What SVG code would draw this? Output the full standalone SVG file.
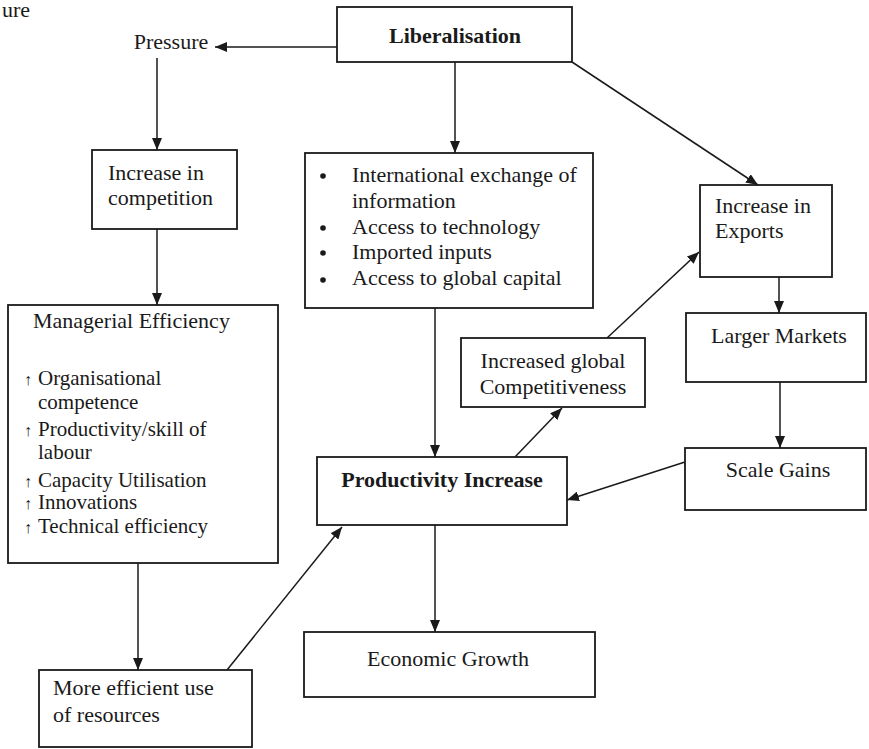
<svg xmlns="http://www.w3.org/2000/svg" width="869" height="749" viewBox="0 0 869 749">
<style>
  text { font-family: "Liberation Serif", "Times New Roman", serif; fill: #1a1a1a; font-size: 22px; }
  .b { font-weight: bold; }
  .box { fill: #ffffff; stroke: #1a1a1a; stroke-width: 1.8; }
  .ln { stroke: #1a1a1a; stroke-width: 1.5; fill: none; marker-end: url(#ah); }
  .mid { text-anchor: middle; }
  .up { font-size: 16px; }
  .it { font-size: 21px; }
</style>
<defs>
  <marker id="ah" markerWidth="12" markerHeight="10" refX="12" refY="5" orient="auto" markerUnits="userSpaceOnUse">
    <path d="M0,0 L12,5 L0,10 Z" fill="#1a1a1a"/>
  </marker>
</defs>
<rect width="869" height="749" fill="#ffffff"/>
<text x="2" y="17" font-size="20">ure</text>

<g id="connectors">
  <line class="ln" x1="337" y1="47" x2="215" y2="47"/>
  <line class="ln" x1="157" y1="58" x2="157" y2="150"/>
  <line class="ln" x1="157" y1="229" x2="157" y2="305"/>
  <line class="ln" x1="138" y1="563" x2="138" y2="670"/>
  <line class="ln" x1="227" y1="670" x2="342" y2="527"/>
  <line class="ln" x1="455" y1="62" x2="455" y2="153"/>
  <line class="ln" x1="435" y1="308" x2="435" y2="457"/>
  <line class="ln" x1="435" y1="525" x2="435" y2="632"/>
  <line class="ln" x1="572" y1="62" x2="758" y2="185"/>
  <line class="ln" x1="779" y1="277" x2="779" y2="313"/>
  <line class="ln" x1="780" y1="382" x2="780" y2="448"/>
  <line class="ln" x1="685" y1="462" x2="567" y2="500"/>
  <line class="ln" x1="515" y1="457" x2="562" y2="408"/>
  <line class="ln" x1="607" y1="338" x2="699" y2="252"/>
</g>

<g id="liberalisation">
  <rect class="box" x="337" y="7" width="235" height="55"/>
  <text x="455" y="43" class="b mid" font-size="27">Liberalisation</text>
</g>
<g id="pressure">
  <text x="171" y="49" class="mid">Pressure</text>
</g>
<g id="competition">
  <rect class="box" x="92" y="150" width="145" height="79"/>
  <text x="108" y="180">Increase in</text>
  <text x="108" y="205">competition</text>
</g>
<g id="managerial">
  <rect class="box" x="8" y="305" width="270" height="258"/>
  <text x="33" y="328" font-size="20.5">Managerial Efficiency</text>
  <text x="24" y="385" class="up">↑</text><text x="38" y="385" class="it">Organisational</text>
  <text x="38" y="409" class="it">competence</text>
  <text x="24" y="436" class="up">↑</text><text x="38" y="436" class="it">Productivity/skill of</text>
  <text x="38" y="459" class="it">labour</text>
  <text x="24" y="487" class="up">↑</text><text x="38" y="487" class="it">Capacity Utilisation</text>
  <text x="24" y="509" class="up">↑</text><text x="38" y="509" class="it">Innovations</text>
  <text x="24" y="533" class="up">↑</text><text x="38" y="533" class="it">Technical efficiency</text>
</g>
<g id="efficient-use">
  <rect class="box" x="39" y="670" width="213" height="77"/>
  <text x="53" y="695">More efficient use</text>
  <text x="53" y="722">of resources</text>
</g>
<g id="channels">
  <rect class="box" x="305" y="153" width="288" height="155"/>
  <circle cx="323" cy="176" r="2.8" fill="#1a1a1a"/>
  <circle cx="323" cy="228" r="2.8" fill="#1a1a1a"/>
  <circle cx="323" cy="253" r="2.8" fill="#1a1a1a"/>
  <circle cx="323" cy="280" r="2.8" fill="#1a1a1a"/>
  <text x="352" y="182">International exchange of</text>
  <text x="352" y="208">information</text>
  <text x="352" y="234">Access to technology</text>
  <text x="352" y="259">Imported inputs</text>
  <text x="352" y="285">Access to global capital</text>
</g>
<g id="productivity">
  <rect class="box" x="317" y="457" width="250" height="68"/>
  <text x="442" y="487" class="b mid">Productivity Increase</text>
</g>
<g id="growth">
  <rect class="box" x="304" y="632" width="291" height="65"/>
  <text x="448" y="666" class="mid" font-size="26">Economic Growth</text>
</g>
<g id="exports">
  <rect class="box" x="700" y="185" width="132" height="92"/>
  <text x="715" y="213">Increase in</text>
  <text x="715" y="238">Exports</text>
</g>
<g id="larger-markets">
  <rect class="box" x="686" y="313" width="180" height="69"/>
  <text x="779" y="343" class="mid">Larger Markets</text>
</g>
<g id="scale-gains">
  <rect class="box" x="685" y="448" width="181" height="62"/>
  <text x="778" y="477" class="mid">Scale Gains</text>
</g>
<g id="competitiveness">
  <rect class="box" x="461" y="338" width="184" height="69"/>
  <text x="553" y="368" class="mid">Increased global</text>
  <text x="553" y="394" class="mid">Competitiveness</text>
</g>
</svg>
